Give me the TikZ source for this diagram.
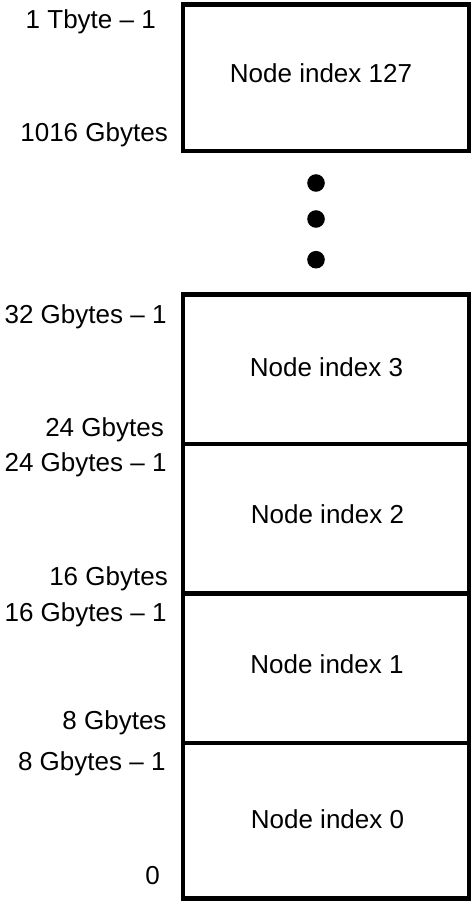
\documentclass[tikz,border=0pt]{standalone}
\usepackage{fontspec}
\setmainfont{Liberation Sans}
\begin{document}
\begin{tikzpicture}[x=1pt,y=-1pt,
  membox/.style={draw, line width=4.5pt, rectangle, inner sep=0pt,
                 minimum width=286pt},
  boxtext/.style={anchor=base, inner sep=0pt, font=\fontsize{26}{31}\selectfont},
  addr/.style={anchor=base east, inner sep=0pt, font=\fontsize{26}{31}\selectfont},
  dot/.style={circle, fill, inner sep=0pt, minimum size=17.6pt}]
\useasboundingbox (0,0) rectangle (471,901);

% top region
\node[membox, minimum height=146.5pt] (b127) at (326,77.75) {};
\node[boxtext] (t127) at (321,82.7) {Node index 127};
\node[addr] (a127hi) at (156,29) {1 Tbyte -- 1};
\node[addr] (a127lo) at (168,141.7) {1016 Gbytes};

% ellipsis
\node[dot] (d1) at (316,183) {};
\node[dot] (d2) at (316,219) {};
\node[dot] (d3) at (316,259.7) {};

% stacked regions
\node[membox, minimum height=149.5pt] (b3) at (326,369.25) {};
\node[membox, minimum height=149.5pt] (b2) at (326,518.75) {};
\node[membox, minimum height=149.5pt] (b1) at (326,668.25) {};
\node[membox, minimum height=155.5pt] (b0) at (326,820.75) {};

\node[boxtext] (t3) at (326.5,376.8) {Node index 3};
\node[boxtext] (t2) at (327.5,523.5) {Node index 2};
\node[boxtext] (t1) at (327,673.5) {Node index 1};
\node[boxtext] (t0) at (327.5,828) {Node index 0};

\node[addr] (a3hi) at (166.7,323) {32 Gbytes -- 1};
\node[addr] (a3lo) at (164,436) {24 Gbytes};
\node[addr] (a2hi) at (166.7,471.7) {24 Gbytes -- 1};
\node[addr] (a2lo) at (168,585) {16 Gbytes};
\node[addr] (a1hi) at (166.7,621) {16 Gbytes -- 1};
\node[addr] (a1lo) at (166.7,729) {8 Gbytes};
\node[addr] (a0hi) at (165.7,770.7) {8 Gbytes -- 1};
\node[addr] (a0lo) at (160,884.3) {0};
\end{tikzpicture}
\end{document}
